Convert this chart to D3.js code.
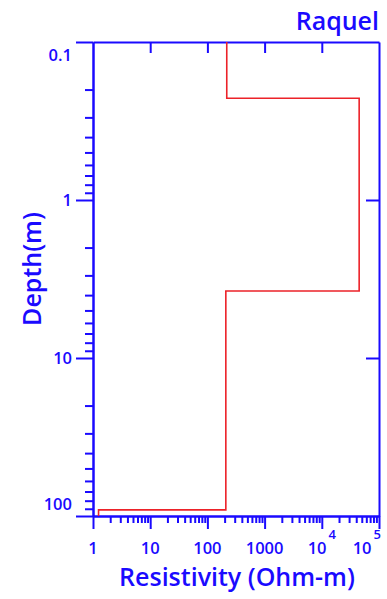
<!DOCTYPE html>
<html>
<head>
<meta charset="utf-8">
<script src="https://cdn.jsdelivr.net/npm/d3@7"></script>
<style>
  body { margin: 0; background: #fff; }
  svg { display: block; }
  text { font-family: "Open Sans", "DejaVu Sans", sans-serif; }
</style>
</head>
<body>
<script>
// Layered resistivity model (sounding "Raquel")
const title = "Raquel";
const xLabel = "Resistivity (Ohm-m)";
const yLabel = "Depth(m)";

const layerResistivity = [218, 45000, 210, 1.25];   // Ohm-m
const layerTop         = [0.1, 0.227, 3.77, 91.5];  // m
const layerBottom      = [0.227, 3.77, 91.5, 100];  // m

const xMajorTicks  = [1, 10, 100, 1000, 1e4, 1e5];
const xTickLabels  = ["1", "10", "100", "1000", "10^4", "10^5"];
const yMajorTicks  = [0.1, 1, 10, 100];
const yTickLabels  = ["0.1", "1", "10", "100"];

const W = 387, H = 599;
const margin = { top: 42, right: 8, bottom: 83, left: 93 };
const blue = "#1a0aff";
const red = "#ec2229";

const svg = d3.select("body").append("svg")
  .attr("width", W).attr("height", H);

const x = d3.scaleLog().domain([1, 1e5]).range([margin.left, W - margin.right]);
const y = d3.scaleLog().domain([0.1, 100]).range([margin.top, H - margin.bottom]);

// minor tick positions: 2..9 within each decade
function minorTicks(domain) {
  const out = [];
  const lo = Math.round(Math.log10(domain[0])), hi = Math.round(Math.log10(domain[1]));
  for (let e = lo; e < hi; e++) for (let m = 2; m <= 9; m++) out.push(m * Math.pow(10, e));
  return out;
}

function styleAxis(g) {
  g.selectAll("path.domain").attr("stroke", blue).attr("stroke-width", 2);
  g.selectAll(".tick line").attr("stroke", blue).attr("stroke-width", 2);
}

// left axis: minor ticks
svg.append("g")
  .attr("transform", `translate(${margin.left},0)`)
  .call(d3.axisLeft(y).tickValues(minorTicks(y.domain())).tickSize(8).tickSizeOuter(0).tickFormat(""))
  .call(styleAxis);

// left axis: major ticks + labels
const gy = svg.append("g")
  .attr("transform", `translate(${margin.left},0)`)
  .call(d3.axisLeft(y).tickValues(yMajorTicks).tickSize(17).tickSizeOuter(0).tickPadding(4)
    .tickFormat((d, i) => yTickLabels[i]))
  .call(styleAxis);
gy.selectAll(".tick text")
  .attr("fill", blue).attr("font-size", 16.5).attr("font-weight", 600)
  .attr("font-family", "'Open Sans', sans-serif")
  .attr("dy", (d, i) => i === 0 ? "1.15em" : i === yMajorTicks.length - 1 ? "-0.4em" : "0.36em");

// right axis: inward decade ticks
svg.append("g")
  .attr("transform", `translate(${W - margin.right},0)`)
  .call(d3.axisLeft(y).tickValues(yMajorTicks.slice(1, -1)).tickSize(13).tickSizeOuter(0).tickFormat(""))
  .call(styleAxis);

// top axis: inward decade ticks
svg.append("g")
  .attr("transform", `translate(0,${margin.top})`)
  .call(d3.axisTop(x).tickValues(xMajorTicks.slice(1, -1)).tickSize(-11).tickSizeOuter(0).tickFormat(""))
  .call(styleAxis);

// bottom axis: minor ticks
svg.append("g")
  .attr("transform", `translate(0,${H - margin.bottom})`)
  .call(d3.axisBottom(x).tickValues(minorTicks(x.domain())).tickSize(7).tickSizeOuter(0).tickFormat(""))
  .call(styleAxis);

// bottom axis: major ticks
svg.append("g")
  .attr("transform", `translate(0,${H - margin.bottom})`)
  .call(d3.axisBottom(x).tickValues(xMajorTicks).tickSize(13).tickSizeOuter(0).tickFormat(""))
  .call(styleAxis);

// bottom tick labels, powers of ten written with a superscript
const xl = svg.append("g").attr("fill", blue).attr("font-size", 16.5).attr("font-weight", 600);
xMajorTicks.forEach((v, i) => {
  const lab = xTickLabels[i];
  const last = i === xMajorTicks.length - 1;
  const t = xl.append("text")
    .attr("x", x(v) + (last ? 2 : 0))
    .attr("y", H - margin.bottom + 38)
    .attr("text-anchor", last ? "end" : "middle");
  if (lab.includes("^")) {
    const [base, exp] = lab.split("^");
    t.append("tspan").text(base);
    t.append("tspan").attr("font-size", 13).attr("dx", 2).attr("dy", -15).text(exp);
  } else {
    t.text(lab);
  }
});

// resistivity step profile
const pts = [];
layerResistivity.forEach((r, i) => {
  pts.push([r, layerTop[i]]);
  pts.push([r, layerBottom[i]]);
});
svg.append("path")
  .datum(pts)
  .attr("fill", "none")
  .attr("stroke", red)
  .attr("stroke-width", 1.6)
  .attr("d", d3.line().x(d => x(d[0])).y(d => y(d[1])));

// titles
svg.append("text")
  .attr("x", W - margin.right).attr("y", 30)
  .attr("text-anchor", "end")
  .attr("fill", blue).attr("font-size", 25).attr("font-weight", 600)
  .text(title);

svg.append("text")
  .attr("x", (x.range()[0] + x.range()[1]) / 2 + 1).attr("y", 586)
  .attr("text-anchor", "middle")
  .attr("fill", blue).attr("font-size", 25).attr("font-weight", 600)
  .text(xLabel);

svg.append("text")
  .attr("transform", `translate(41,269) rotate(-90)`)
  .attr("text-anchor", "middle")
  .attr("fill", blue).attr("font-size", 25).attr("font-weight", 600)
  .text(yLabel);
</script>
</body>
</html>
